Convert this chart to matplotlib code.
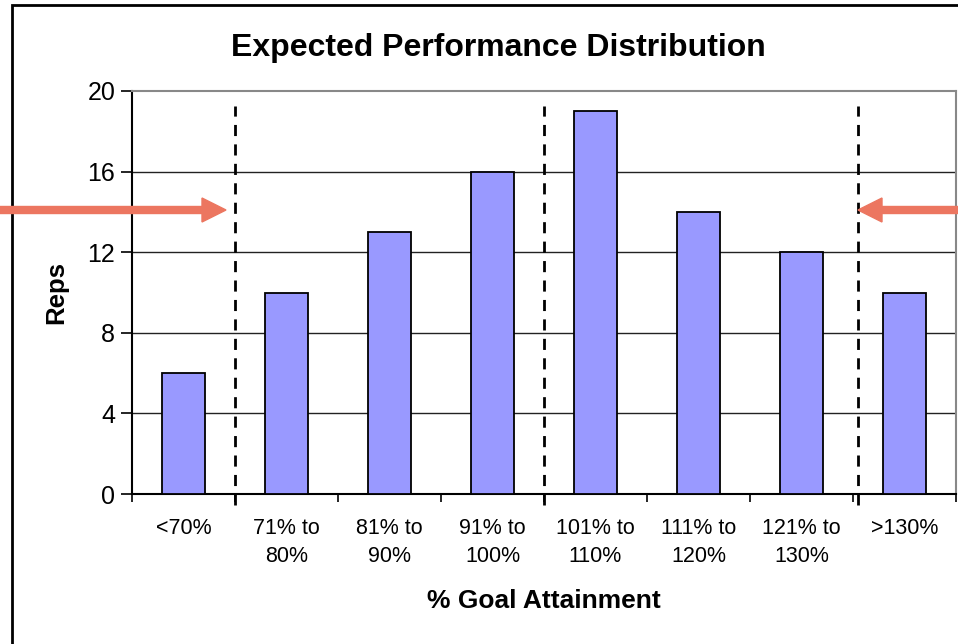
import matplotlib
matplotlib.use("Agg")
import matplotlib.pyplot as plt
from matplotlib.patches import Rectangle, FancyArrow
from matplotlib.lines import Line2D

plt.rcParams['font.family'] = ['Liberation Sans', 'DejaVu Sans']

categories = ["<70%", "71% to\n80%", "81% to\n90%", "91% to\n100%", "101% to\n110%",
              "111% to\n120%", "121% to\n130%", ">130%"]
reps = [6, 10, 13, 16, 19, 14, 12, 10]
yticks = [0, 4, 8, 12, 16, 20]
divider_positions = [0.5, 3.5, 6.55]

W, H = 958, 644
fig = plt.figure(figsize=(W / 100, H / 100), dpi=100)
ax = fig.add_axes([132 / W, 1 - 494 / H, (956 - 132) / W, (494 - 91) / H])

x = list(range(len(categories)))
ax.bar(x, reps, width=0.41, color="#9999FF", edgecolor="black", linewidth=1.3, zorder=3)

ax.set_xlim(-0.5, 7.5)
ax.set_ylim(0, 20)
ax.set_yticks(yticks)
ax.set_yticklabels([str(v) for v in yticks], fontsize=18)
ax.set_xticks(x)
ax.set_xticklabels(categories, fontsize=15.5, linespacing=1.45)
ax.set_xticks([i - 0.5 for i in range(len(categories) + 1)], minor=True)
ax.tick_params(axis='x', which='major', length=0, pad=17)
ax.tick_params(axis='x', which='minor', length=6, width=1.2, direction='out')
ax.tick_params(axis='y', length=8, width=1.2, direction='out', pad=4)

for v in yticks[1:-1]:
    ax.axhline(v, color="#222222", linewidth=1.0, zorder=1)

for s in ['left', 'bottom']:
    ax.spines[s].set_color('black')
    ax.spines[s].set_linewidth(1.5)
for s in ['top', 'right']:
    ax.spines[s].set_color('#888888')
    ax.spines[s].set_linewidth(1.5)

for d in divider_positions:
    ax.add_line(Line2D([d, d], [-0.55, 19.25], color='black', linewidth=2,
                       linestyle=(0, (4, 3)), clip_on=False, zorder=5))

ax.set_ylabel("Reps", fontsize=18.5, fontweight='bold', va='center')
ax.yaxis.set_label_coords((56 - 132) / 824, (494 - 292) / 403)
ax.set_xlabel("% Goal Attainment", fontsize=19, fontweight='bold', va='center')
ax.xaxis.set_label_coords((544 - 132) / 824, -(601 - 494) / 403)

fig.text(498 / W, 1 - 48 / H, "Expected Performance Distribution", fontsize=23,
         fontweight='bold', ha='center', va='center')

# figure border
fig.patches.append(Rectangle((12 / W, -0.1), 1.2, 1 - 5 / H + 0.1, transform=fig.transFigure,
                             fill=False, edgecolor='black', linewidth=2))

# arrows
ac = "#EC7660"
fig.patches.append(FancyArrow(0, 1 - 210 / H, 226 / W, 0, width=7 / H, head_width=24 / H,
                              head_length=24 / W, length_includes_head=True,
                              transform=fig.transFigure, color=ac, zorder=10))
fig.patches.append(FancyArrow(1, 1 - 210 / H, -(958 - 858) / W, 0, width=7 / H, head_width=24 / H,
                              head_length=24 / W, length_includes_head=True,
                              transform=fig.transFigure, color=ac, zorder=10))

fig.savefig("out.png", dpi=100)
